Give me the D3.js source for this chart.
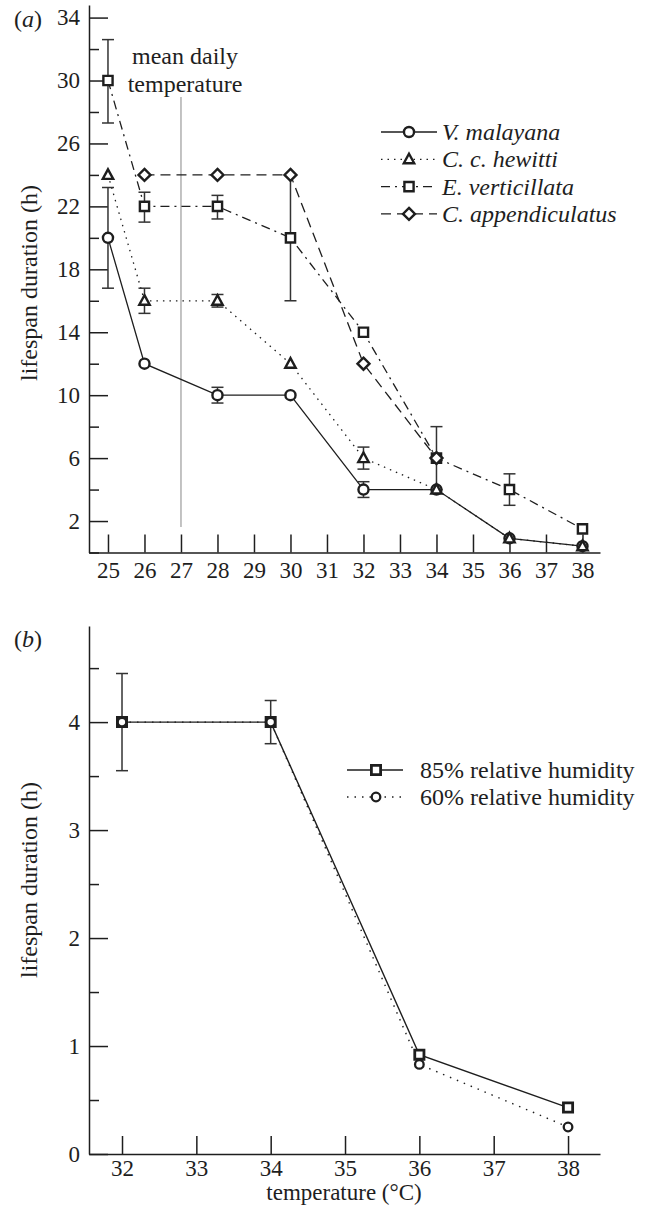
<!DOCTYPE html>
<html>
<head>
<meta charset="utf-8">
<script src="https://cdn.jsdelivr.net/npm/d3@7"></script>
<style>
  body { margin: 0; background: #fff; }
  svg { display: block; font-family: "Liberation Serif", "Times New Roman", serif; }
</style>
</head>
<body>
<script>
// panel (a): lifespan vs temperature for four species
var tempA = [25, 26, 28, 30, 32, 34, 36, 38];
var tickTempA = [25, 26, 27, 28, 29, 30, 31, 32, 33, 34, 35, 36, 37, 38];
var malayana   = [20, 12, 10, 10, 4, 4, 0.9, 0.4];
var malayanaLo = [16.8, null, 9.5, null, 3.5, null, null, null];
var malayanaHi = [23.2, null, 10.5, null, 4.5, null, null, null];
var hewitti   = [24, 16, 16, 12, 6, 4, 0.9, 0.4];
var hewittiLo = [null, 15.2, 15.6, null, 5.3, null, null, null];
var hewittiHi = [null, 16.8, 16.4, null, 6.7, null, null, null];
var verticillata = [30, 22, 22, 20, 14, 6, 4, 1.5];
var vertLo = [27.3, 21.0, 21.2, 16, null, 4, 3, null];
var vertHi = [32.6, 22.9, 22.7, 24, null, 8, 5, null];
var appendiculatus = [null, 24, 24, 24, 12, 6, null, null];
var meanDailyTemp = 27;

// panel (b): V. malayana at two humidities
var tempB = [32, 34, 36, 38];
var tickTempB = [32, 33, 34, 35, 36, 37, 38];
var rh85   = [4, 4, 0.92, 0.43];
var rh85Lo = [3.55, 3.8, null, null];
var rh85Hi = [4.45, 4.2, null, null];
var rh60   = [4, 4, 0.83, 0.25];

var w = 645, h = 1207;
var ink = "#1e1e1e";

var svg = d3.select("body").append("svg").attr("width", w).attr("height", h);

var xA = d3.scaleLinear().domain([24.48, 38.48]).range([89, 600]);
var yA = d3.scaleLinear().domain([0, 34.8]).range([552.5, 5]);
var xB = d3.scaleLinear().domain([31.556, 38.43]).range([89, 600]);
var yB = d3.scaleLinear().domain([0, 4.89]).range([1154, 626]);

function styleAxis(g, size) {
  g.selectAll("path").attr("stroke", ink).attr("stroke-width", 1.5);
  g.selectAll("line").attr("stroke", ink).attr("stroke-width", 1.5);
  g.selectAll("text").attr("fill", ink).attr("font-size", size)
    .attr("font-family", "Liberation Serif");
  g.attr("font-family", null).attr("font-size", null);
}

function drawAxes(x, y, xticks, yMajor, yMinor, yPos, xPad) {
  var y0 = y.range()[0];
  var gx = svg.append("g").attr("transform", "translate(0," + y0 + ")")
    .call(d3.axisBottom(x).tickValues(xticks).tickSizeInner(-18).tickSizeOuter(0)
      .tickPadding(xPad).tickFormat(d3.format("d")));
  styleAxis(gx, 23);
  var gmin = svg.append("g").attr("transform", "translate(" + yPos + ",0)")
    .call(d3.axisLeft(y).tickValues(yMinor).tickSizeInner(-10).tickSizeOuter(0).tickFormat(""));
  styleAxis(gmin, 23);
  var gmaj = svg.append("g").attr("transform", "translate(" + yPos + ",0)")
    .call(d3.axisLeft(y).tickValues(yMajor).tickSizeInner(-19).tickSizeOuter(0)
      .tickPadding(9).tickFormat(d3.format("d")));
  styleAxis(gmaj, 23);
  gmaj.select(".domain").remove();
}

// ---------- panel (a) ----------
drawAxes(xA, yA, tickTempA, [2, 6, 10, 14, 18, 22, 26, 30, 34],
  [0, 4, 8, 12, 16, 20, 24, 28, 32], 89, 9);

svg.append("line")
  .attr("x1", xA(meanDailyTemp)).attr("x2", xA(meanDailyTemp))
  .attr("y1", 97).attr("y2", 527)
  .attr("stroke", "#aaa").attr("stroke-width", 1.4);

svg.append("text").attr("x", 185).attr("y", 64).attr("text-anchor", "middle")
  .attr("font-size", 24).attr("fill", ink).text("mean daily");
svg.append("text").attr("x", 185).attr("y", 92).attr("text-anchor", "middle")
  .attr("font-size", 24).attr("fill", ink).text("temperature");

var seriesA = [
  {name: "V. malayana", vals: malayana, lo: malayanaLo, hi: malayanaHi, shape: "circle", dash: null},
  {name: "C. c. hewitti", vals: hewitti, lo: hewittiLo, hi: hewittiHi, shape: "triangle", dash: "1.5,5"},
  {name: "E. verticillata", vals: verticillata, lo: vertLo, hi: vertHi, shape: "square", dash: "9,5,2,5"},
  {name: "C. appendiculatus", vals: appendiculatus, lo: null, hi: null, shape: "diamond", dash: "10,6"}
];

function markerPath(shape) {
  if (shape === "circle") return d3.symbol().type(d3.symbolCircle).size(80)();
  if (shape === "square") return "M-4.6,-4.6H4.6V4.6H-4.6Z";
  if (shape === "triangle") return "M0,-5.6L5.2,4H-5.2Z";
  if (shape === "diamond") return "M0,-6L6,0L0,6L-6,0Z";
}

function drawSeries(x, y, temps, s, lw) {
  var pts = temps.map(function (t, i) { return {t: t, v: s.vals[i], lo: s.lo ? s.lo[i] : null, hi: s.hi ? s.hi[i] : null}; });
  var line = d3.line().defined(function (d) { return d.v != null; })
    .x(function (d) { return x(d.t); }).y(function (d) { return y(d.v); });
  svg.append("path").datum(pts).attr("d", line).attr("fill", "none")
    .attr("stroke", ink).attr("stroke-width", lw || 1.3)
    .attr("stroke-dasharray", s.dash);
  return pts;
}

function drawErrors(x, y, pts) {
  var eb = svg.append("g").attr("stroke", "#333").attr("stroke-width", 1.5);
  pts.filter(function (d) { return d.lo != null; }).forEach(function (d) {
    eb.append("line").attr("x1", x(d.t)).attr("x2", x(d.t)).attr("y1", y(d.lo)).attr("y2", y(d.hi));
    eb.append("line").attr("x1", x(d.t) - 6).attr("x2", x(d.t) + 6).attr("y1", y(d.lo)).attr("y2", y(d.lo));
    eb.append("line").attr("x1", x(d.t) - 6).attr("x2", x(d.t) + 6).attr("y1", y(d.hi)).attr("y2", y(d.hi));
  });
}

function drawMarkers(x, y, pts, shape, sw, fill) {
  svg.append("g").selectAll("path")
    .data(pts.filter(function (d) { return d.v != null; }))
    .enter().append("path")
    .attr("d", markerPath(shape))
    .attr("transform", function (d) { return "translate(" + x(d.t) + "," + y(d.v) + ")"; })
    .attr("fill", fill || "#fff").attr("stroke", ink).attr("stroke-width", sw);
}

var ptsA = seriesA.map(function (s) { return drawSeries(xA, yA, tempA, s); });
ptsA.forEach(function (p) { drawErrors(xA, yA, p); });
ptsA.forEach(function (p, i) { drawMarkers(xA, yA, p, seriesA[i].shape, 2.4); });

// legend (a)
var legA = svg.append("g");
seriesA.forEach(function (s, i) {
  var ly = 132 + i * 27.3;
  legA.append("line").attr("x1", 381).attr("x2", 437).attr("y1", ly).attr("y2", ly)
    .attr("stroke", ink).attr("stroke-width", 1.3).attr("stroke-dasharray", s.dash);
  legA.append("path").attr("d", markerPath(s.shape)).attr("transform", "translate(409," + ly + ")")
    .attr("fill", "#fff").attr("stroke", ink).attr("stroke-width", 2.4);
  legA.append("text").attr("x", 442).attr("y", ly).attr("dy", "0.33em")
    .attr("font-size", 24).attr("font-style", "italic").attr("fill", ink).text(s.name);
});

svg.append("text").attr("x", 14).attr("y", 27).attr("font-size", 24).attr("fill", ink)
  .html('(<tspan font-style="italic">a</tspan>)');

svg.append("text").attr("transform", "translate(37,283) rotate(-90)")
  .attr("text-anchor", "middle").attr("font-size", 24).attr("fill", ink)
  .text("lifespan duration (h)");

// ---------- panel (b) ----------
drawAxes(xB, yB, tickTempB, [0, 1, 2, 3, 4], [0.5, 1.5, 2.5, 3.5, 4.5], 89, 6);

var s85 = {vals: rh85, lo: rh85Lo, hi: rh85Hi, dash: null};
var s60 = {vals: rh60, lo: null, hi: null, dash: "1.5,6"};
var p85 = drawSeries(xB, yB, tempB, s85, 1.4);
var p60 = drawSeries(xB, yB, tempB, s60, 1.4);
drawErrors(xB, yB, p85);
drawMarkers(xB, yB, p85, "square", 2.8);
svg.append("g").selectAll("circle").data(p60).enter().append("circle")
  .attr("cx", function (d) { return xB(d.t); }).attr("cy", function (d) { return yB(d.v); })
  .attr("r", 4.3).attr("fill", "#fff").attr("stroke", ink).attr("stroke-width", 2.3);

// legend (b)
var legB = [{label: "85% relative humidity", dash: null, shape: "square"},
            {label: "60% relative humidity", dash: "1.5,6", shape: "circle"}];
legB.forEach(function (s, i) {
  var ly = 770 + i * 27;
  svg.append("line").attr("x1", 347).attr("x2", 403).attr("y1", ly).attr("y2", ly)
    .attr("stroke", ink).attr("stroke-width", 1.3).attr("stroke-dasharray", s.dash);
  if (s.shape === "square") {
    svg.append("path").attr("d", markerPath("square")).attr("transform", "translate(376," + ly + ")")
      .attr("fill", "#fff").attr("stroke", ink).attr("stroke-width", 2.8);
  } else {
    svg.append("circle").attr("cx", 376).attr("cy", ly).attr("r", 4.3)
      .attr("fill", "#fff").attr("stroke", ink).attr("stroke-width", 2.3);
  }
  svg.append("text").attr("x", 420).attr("y", ly).attr("dy", "0.33em")
    .attr("font-size", 24).attr("fill", ink).text(s.label);
});

svg.append("text").attr("x", 14).attr("y", 647).attr("font-size", 24).attr("fill", ink)
  .html('(<tspan font-style="italic">b</tspan>)');

svg.append("text").attr("transform", "translate(37,880) rotate(-90)")
  .attr("text-anchor", "middle").attr("font-size", 24).attr("fill", ink)
  .text("lifespan duration (h)");

svg.append("text").attr("x", 344).attr("y", 1200).attr("text-anchor", "middle")
  .attr("font-size", 23).attr("fill", ink).text("temperature (°C)");
</script>
</body>
</html>
